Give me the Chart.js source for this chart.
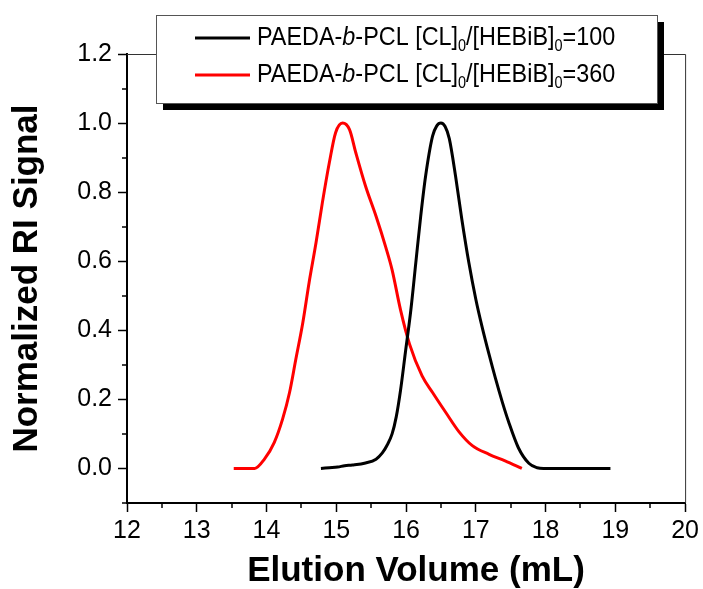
<!DOCTYPE html>
<html>
<head>
<meta charset="utf-8">
<script src="https://cdn.jsdelivr.net/npm/chart.js@4"></script>
<style>
  body { margin: 0; background: #fff; }
  #wrap { width: 703px; height: 589px; }
</style>
</head>
<body>
<div id="wrap"><canvas id="chart" width="703" height="589"></canvas></div>
<script>
// elution volume (mL) and normalized RI signal
const volume100 = [14.78, 14.90, 15.02, 15.12, 15.23, 15.42, 15.57, 15.66, 15.73, 15.80, 15.86, 15.92, 15.99, 16.07, 16.14, 16.21, 16.28, 16.38, 16.44, 16.50, 16.56, 16.62, 16.71, 16.80, 16.90, 17.00, 17.09, 17.19, 17.28, 17.38, 17.47, 17.61, 17.76, 17.88, 17.97, 18.93];
const signal100 = [0.0, 0.002, 0.004, 0.008, 0.01, 0.016, 0.027, 0.045, 0.068, 0.10, 0.15, 0.225, 0.335, 0.461, 0.596, 0.730, 0.846, 0.962, 0.992, 1.0, 0.99, 0.955, 0.846, 0.721, 0.596, 0.49, 0.41, 0.33, 0.262, 0.192, 0.135, 0.06, 0.015, 0.002, 0.0, 0.0];

const volume360 = [13.53, 13.83, 13.97, 14.11, 14.23, 14.33, 14.42, 14.52, 14.61, 14.71, 14.80, 14.90, 14.99, 15.09, 15.19, 15.28, 15.42, 15.57, 15.71, 15.80, 15.92, 16.05, 16.23, 16.38, 16.57, 16.76, 16.95, 17.19, 17.42, 17.66];
const signal360 = [0.0, 0.0, 0.027, 0.075, 0.143, 0.22, 0.316, 0.422, 0.538, 0.654, 0.769, 0.885, 0.972, 1.0, 0.981, 0.914, 0.817, 0.730, 0.640, 0.575, 0.46, 0.36, 0.268, 0.22, 0.162, 0.106, 0.066, 0.041, 0.022, 0.0];

const xTicks = [12, 13, 14, 15, 16, 17, 18, 19, 20];
const xMinor = [12.5, 13.5, 14.5, 15.5, 16.5, 17.5, 18.5, 19.5];
const yTicks = [0.0, 0.2, 0.4, 0.6, 0.8, 1.0, 1.2];
const yMinor = [-0.1, 0.1, 0.3, 0.5, 0.7, 0.9, 1.1];

const legendLabels = [
  [{ t: 'PAEDA-' }, { t: 'b', it: true }, { t: '-PCL [CL]' }, { t: '0', sub: true }, { t: '/[HEBiB]' }, { t: '0', sub: true }, { t: '=100' }],
  [{ t: 'PAEDA-' }, { t: 'b', it: true }, { t: '-PCL [CL]' }, { t: '0', sub: true }, { t: '/[HEBiB]' }, { t: '0', sub: true }, { t: '=360' }]
];
const seriesColors = ['#000000', '#ff0000'];

const FONT = '"Liberation Sans", Arial, sans-serif';

function toPoints(xs, ys) {
  return xs.map((x, i) => ({ x: x, y: ys[i] }));
}

function drawRich(ctx, x, y, parts, size) {
  let cx = x;
  parts.forEach(p => {
    const s = p.sub ? size * 0.62 : size;
    ctx.font = (p.it ? 'italic ' : '') + s + 'px ' + FONT;
    ctx.fillText(p.t, cx, p.sub ? y + size * 0.32 : y);
    cx += ctx.measureText(p.t).width;
  });
}

const framePlugin = {
  id: 'frame',
  afterDraw(chart) {
    const ctx = chart.ctx;
    const { left, right, top, bottom } = chart.chartArea;
    const xs = chart.scales.x, ys = chart.scales.y;
    ctx.save();

    // top and right frame
    ctx.strokeStyle = '#333';
    ctx.lineWidth = 1;
    ctx.beginPath();
    ctx.moveTo(left, top + 0.5);
    ctx.lineTo(right + 0.5, top + 0.5);
    ctx.lineTo(right + 0.5, bottom);
    ctx.stroke();

    // minor ticks
    ctx.strokeStyle = '#000';
    ctx.lineWidth = 1.5;
    ctx.beginPath();
    xMinor.forEach(v => {
      const px = Math.round(xs.getPixelForValue(v));
      ctx.moveTo(px, bottom);
      ctx.lineTo(px, bottom + 5);
    });
    yMinor.forEach(v => {
      const py = Math.round(ys.getPixelForValue(v));
      ctx.moveTo(left, py);
      ctx.lineTo(left - 5, py);
    });
    ctx.stroke();

    // axis titles
    ctx.fillStyle = '#000';
    ctx.font = 'bold 35px ' + FONT;
    ctx.textAlign = 'center';
    ctx.textBaseline = 'alphabetic';
    ctx.fillText('Elution Volume (mL)', 416, 581);
    ctx.save();
    ctx.translate(37, (top + bottom) / 2);
    ctx.rotate(-Math.PI / 2);
    ctx.fillText('Normalized RI Signal', 0, 0);
    ctx.restore();

    // legend with drop shadow
    const bx = 156, by = 15, bw = 501, bh = 88;
    ctx.fillStyle = '#000';
    ctx.fillRect(bx + 7, by + 7, bw, bh);
    ctx.fillStyle = '#fff';
    ctx.fillRect(bx, by, bw, bh);
    ctx.strokeStyle = '#555';
    ctx.lineWidth = 1;
    ctx.strokeRect(bx + 0.5, by + 0.5, bw, bh);

    const rows = [38, 75];
    ctx.textAlign = 'left';
    ctx.textBaseline = 'middle';
    rows.forEach((ry, i) => {
      ctx.strokeStyle = seriesColors[i];
      ctx.lineWidth = 3;
      ctx.beginPath();
      ctx.moveTo(195, ry);
      ctx.lineTo(250, ry);
      ctx.stroke();
      ctx.fillStyle = '#000';
      ctx.save();
      ctx.translate(0, ry);
      ctx.scale(1, 1.12);
      drawRich(ctx, 257, 0, legendLabels[i], 23.4);
      ctx.restore();
    });

    ctx.restore();
  }
};

new Chart(document.getElementById('chart'), {
  type: 'scatter',
  data: {
    datasets: [
      {
        label: '100',
        data: toPoints(volume100, signal100),
        showLine: true,
        borderColor: seriesColors[0],
        borderWidth: 3,
        pointRadius: 0,
        cubicInterpolationMode: 'monotone'
      },
      {
        label: '360',
        data: toPoints(volume360, signal360),
        showLine: true,
        borderColor: seriesColors[1],
        borderWidth: 3,
        pointRadius: 0,
        cubicInterpolationMode: 'monotone'
      }
    ]
  },
  options: {
    responsive: false,
    animation: false,
    layout: { padding: { left: 0, top: 54, right: 16, bottom: 0 } },
    plugins: {
      legend: { display: false },
      tooltip: { enabled: false }
    },
    scales: {
      x: {
        type: 'linear',
        min: 12,
        max: 20,
        afterBuildTicks: s => { s.ticks = xTicks.map(v => ({ value: v })); },
        afterFit: s => { s.height = 86; },
        grid: { drawOnChartArea: false, tickLength: 9, tickWidth: 1.5, tickColor: '#000' },
        border: { color: '#000', width: 2 },
        ticks: {
          color: '#000',
          padding: 4,
          font: { family: FONT, size: 25 },
          maxRotation: 0,
          callback: v => String(v)
        }
      },
      y: {
        type: 'linear',
        min: -0.1,
        max: 1.2,
        afterBuildTicks: s => { s.ticks = yTicks.map(v => ({ value: v })); },
        afterFit: s => { s.width = 127; },
        grid: { drawOnChartArea: false, tickLength: 9, tickWidth: 1.5, tickColor: '#000' },
        border: { color: '#000', width: 2 },
        ticks: {
          color: '#000',
          padding: 6,
          font: { family: FONT, size: 25 },
          callback: v => Number(v).toFixed(1)
        }
      }
    }
  },
  plugins: [framePlugin]
});
</script>
</body>
</html>
